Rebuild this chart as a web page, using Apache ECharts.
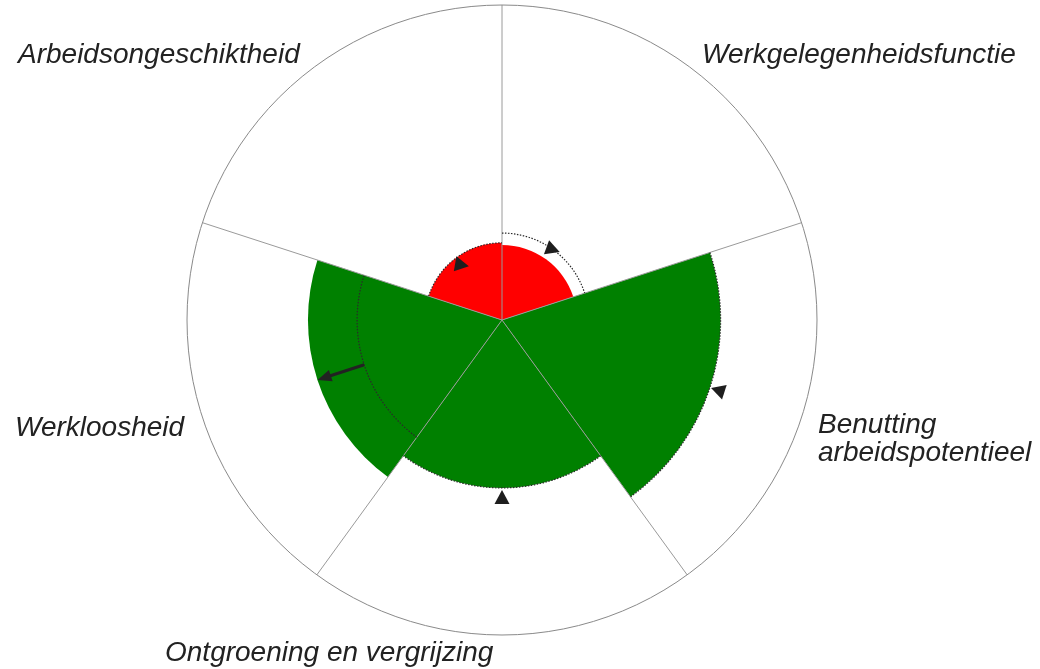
<!DOCTYPE html>
<html>
<head>
<meta charset="utf-8">
<script src="https://cdn.jsdelivr.net/npm/echarts@6/dist/echarts.min.js"></script>
<style>
html, body { margin: 0; padding: 0; background: #fff; }
#chart { width: 1040px; height: 669px; }
</style>
</head>
<body>
<div id="chart"></div>
<script>
// sectoren, met de klok mee vanaf boven
var categories = ['Werkgelegenheidsfunctie', 'Benutting\narbeidspotentieel', 'Ontgroening en vergrijzing', 'Werkloosheid', 'Arbeidsongeschiktheid'];
var currentValues = [23.8, 69.4, 53.3, 61.6, 24.5];
var barColors = ['#ff0000', '#008000', '#008000', '#008000', '#ff0000'];
// vorige waarde (stippellijn)
var previousValues = [27.6, 69.4, 53.3, 46, 24.5];
// driehoekjes
var markerValues = [27.6, 72, 56.2, null, 21.6];
var markerRotate = [-110, 72, 0, 0, -100];
// pijl van vorige naar huidige waarde
var arrowCats = [3];

var font = 'italic 28px "Liberation Sans", Arial, sans-serif';

function renderArc(params, api) {
    var cs = params.coordSys;
    var p = api.coord([api.value(0), api.value(1)]);
    var r = Math.sqrt((p[0] - cs.cx) * (p[0] - cs.cx) + (p[1] - cs.cy) * (p[1] - cs.cy));
    var i = api.value(1);
    var step = 2 * Math.PI / categories.length;
    return {
        type: 'arc',
        shape: { cx: cs.cx, cy: cs.cy, r: r, startAngle: -Math.PI / 2 + i * step, endAngle: -Math.PI / 2 + (i + 1) * step, clockwise: true },
        style: { fill: null, stroke: '#2a2a2a', lineWidth: 1.2, lineDash: [1.5, 1.5] }
    };
}

function renderArrow(params, api) {
    var a = api.coord([api.value(0), api.value(1)]);
    var b = api.coord([api.value(2), api.value(1)]);
    var dx = b[0] - a[0], dy = b[1] - a[1];
    var len = Math.sqrt(dx * dx + dy * dy);
    var ux = dx / len, uy = dy / len, head = 14, w = 6;
    var bx = b[0] - ux * head, by = b[1] - uy * head;
    return {
        type: 'group',
        children: [
            { type: 'line', shape: { x1: a[0], y1: a[1], x2: bx + ux * 2, y2: by + uy * 2 }, style: { stroke: '#222', lineWidth: 3 } },
            { type: 'polygon', shape: { points: [[b[0], b[1]], [bx - uy * w, by + ux * w], [bx + uy * w, by - ux * w]] }, style: { fill: '#222' } }
        ]
    };
}

var barData = [], arcData = [], markerData = [], arrowData = [];
for (var i = 0; i < categories.length; i++) {
    barData.push({ value: currentValues[i], itemStyle: { color: barColors[i] } });
    arcData.push([previousValues[i], i]);
    if (markerValues[i] != null) {
        markerData.push({ value: [markerValues[i], i], symbolRotate: markerRotate[i] });
    }
}
for (var j = 0; j < arrowCats.length; j++) {
    var c = arrowCats[j];
    arrowData.push([previousValues[c], c, currentValues[c]]);
}

var myChart = echarts.init(document.getElementById('chart'));
myChart.setOption({
    animation: false,
    backgroundColor: '#fff',
    polar: {
        center: [502, 320],
        radius: 315
    },
    angleAxis: {
        type: 'category',
        data: categories,
        startAngle: 90,
        clockwise: true,
        boundaryGap: true,
        z: 3,
        axisLine: { show: true, lineStyle: { color: '#8a8a8a', width: 1 } },
        axisTick: { show: false },
        axisLabel: { show: false },
        splitLine: { show: true, lineStyle: { color: '#9a9a9a', width: 1 } }
    },
    radiusAxis: {
        type: 'value',
        min: 0,
        max: 100,
        axisLine: { show: false },
        axisTick: { show: false },
        axisLabel: { show: false },
        splitLine: { show: false }
    },
    series: [
        {
            type: 'bar',
            coordinateSystem: 'polar',
            barCategoryGap: '0%',
            data: barData,
            z: 2
        },
        {
            type: 'custom',
            coordinateSystem: 'polar',
            renderItem: renderArc,
            data: arcData,
            z: 4
        },
        {
            type: 'custom',
            coordinateSystem: 'polar',
            renderItem: renderArrow,
            data: arrowData,
            z: 5
        },
        {
            type: 'scatter',
            coordinateSystem: 'polar',
            symbol: 'triangle',
            symbolSize: [15, 14],
            itemStyle: { color: '#1e1e1e', opacity: 1 },
            data: markerData,
            z: 6
        }
    ],
    graphic: [
        { type: 'text', x: 702, y: 55, style: { text: categories[0], font: font, fill: '#222', align: 'left', verticalAlign: 'middle' } },
        { type: 'text', x: 818, y: 439, style: { text: categories[1], font: font, lineHeight: 28, fill: '#222', align: 'left', verticalAlign: 'middle' } },
        { type: 'text', x: 165, y: 653, style: { text: categories[2], font: font, fill: '#222', align: 'left', verticalAlign: 'middle' } },
        { type: 'text', x: 15, y: 428, style: { text: categories[3], font: font, fill: '#222', align: 'left', verticalAlign: 'middle' } },
        { type: 'text', x: 18, y: 55, style: { text: categories[4], font: font, fill: '#222', align: 'left', verticalAlign: 'middle' } }
    ]
});
</script>
</body>
</html>
